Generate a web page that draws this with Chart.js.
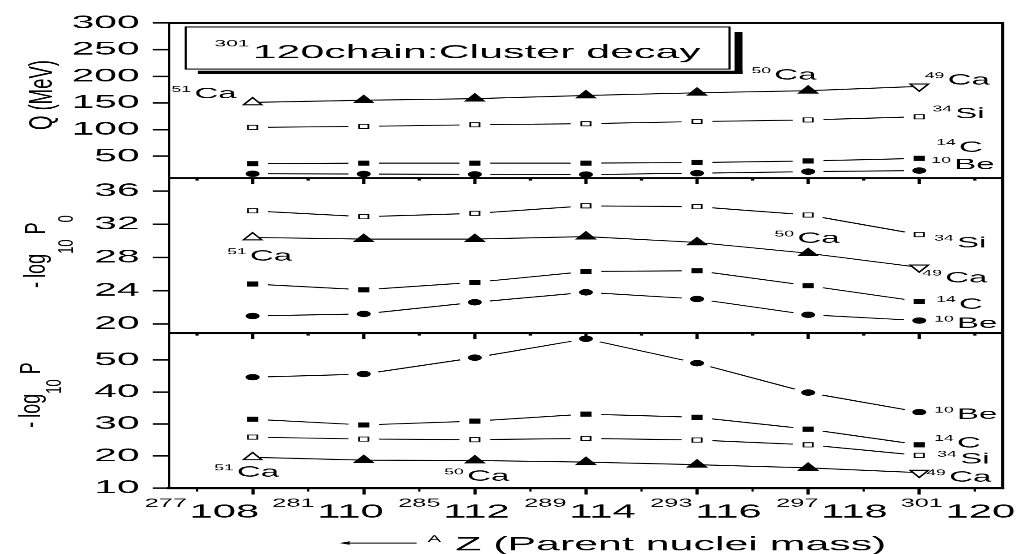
<!DOCTYPE html>
<html>
<head>
<meta charset="utf-8">
<script src="https://cdn.jsdelivr.net/npm/chart.js@4.4.1/dist/chart.umd.min.js"></script>
<style>
  html, body { margin: 0; padding: 0; background: #fff; overflow: hidden; }
  /* the figure is horizontally stretched, so draw narrow and widen it */
  #chart { position: absolute; left: 0; top: 0; transform: scaleX(2.19870); transform-origin: 0 0; }
</style>
</head>
<body>
<canvas id="chart" width="463" height="554"></canvas>
<script>
const FONT = "'Liberation Sans', Arial, Helvetica, sans-serif";
const STRETCH = 1018 / 463;

// x axis: atomic number Z and the parent mass number A
const zValues = [108, 110, 112, 114, 116, 118, 120];
const massNumbers = [277, 281, 285, 289, 293, 297, 301];
const xMinorTicks = [107, 109, 111, 113, 115, 117, 119, 121];

// y tick values per panel
const qTicks = [50, 100, 150, 200, 250, 300];
const p0Ticks = [20, 24, 28, 32, 36];
const pTicks = [10, 20, 30, 40, 50];

// Q value (MeV)
const qBe = [17, 16.5, 16, 15.5, 18, 21, 23];
const qC = [36, 37, 37, 37, 38, 41, 46];
const qSi = [104, 106, 109, 111, 115, 118, 124];
const qCa = [151, 155, 158, 164, 169, 173, 181];

// -log10 P0
const p0Be = [20.95, 21.2, 22.6, 23.8, 23.0, 21.1, 20.4];
const p0C = [24.8, 24.1, 25.0, 26.3, 26.4, 24.6, 22.7];
const p0Si = [33.6, 32.9, 33.3, 34.2, 34.1, 33.1, 30.75];
const p0Ca = [30.4, 30.2, 30.2, 30.5, 29.8, 28.5, 26.8];

// -log10 P
const pBe = [44.6, 45.6, 50.7, 56.6, 49.0, 39.8, 33.7];
const pC = [31.5, 29.7, 30.9, 33.1, 32.1, 28.4, 23.5];
const pSi = [25.9, 25.3, 25.1, 25.5, 25.0, 23.5, 20.2];
const pCa = [19.6, 18.7, 18.6, 18.1, 17.3, 16.3, 14.8];

const panels = [
    { id: 'yQ', min: 9, max: 300, ticks: qTicks, weight: 3, series: { Ca: qCa, Si: qSi, C: qC, Be: qBe } },
    { id: 'yP0', min: 18.9, max: 37.55, ticks: p0Ticks, weight: 2, series: { Si: p0Si, Ca: p0Ca, C: p0C, Be: p0Be } },
    { id: 'yP', min: 10, max: 58.4, ticks: pTicks, weight: 1, series: { Be: pBe, C: pC, Si: pSi, Ca: pCa } }
];

// cluster labels: panel, series, point index, mass, symbol, align, dx, dy (from the point)
const clusterLabels = [
    ['yQ', 'Ca', 0, '51', 'Ca', 'right', -7.3, -4],
    ['yQ', 'Ca', 5, '50', 'Ca', 'center', -11, -11],
    ['yQ', 'Ca', 6, '49', 'Ca', 'left', 2.5, -1.7],
    ['yQ', 'Si', 6, '34', 'Si', 'left', 6, 1.3],
    ['yQ', 'C', 6, '14', 'C', 'left', 7.7, -6.6],
    ['yQ', 'Be', 6, '10', 'Be', 'left', 5.5, -1.4],
    ['yP0', 'Ca', 0, '51', 'Ca', 'center', 3.2, 23.4],
    ['yP0', 'Ca', 5, '50', 'Ca', 'center', -0.5, -10.3],
    ['yP0', 'Ca', 6, '49', 'Ca', 'left', 1.4, 15],
    ['yP0', 'Si', 6, '34', 'Si', 'left', 6.8, 12.7],
    ['yP0', 'C', 6, '14', 'C', 'left', 7.7, 7.3],
    ['yP0', 'Be', 6, '10', 'Be', 'left', 6.8, 7.3],
    ['yP', 'Ca', 0, '51', 'Ca', 'center', -2.7, 19.4],
    ['yP', 'Ca', 2, '50', 'Ca', 'center', 0.9, 20.4],
    ['yP', 'Ca', 6, '49', 'Ca', 'left', 3.2, 9],
    ['yP', 'Si', 6, '34', 'Si', 'left', 8.2, 8],
    ['yP', 'C', 6, '14', 'C', 'left', 6.8, 2.6],
    ['yP', 'Be', 6, '10', 'Be', 'left', 6.8, 7]
];

const yTitles = {
    yQ: { x: 23.5, dy: -5.5, squash: 0.8, parts: [{ text: 'Q (MeV)', size: 18.5 }] },
    yP0: { x: 20.5, dy: -4, squash: 0.75, parts: [{ text: '-', size: 18 }, { text: 'log', size: 18, gap: 4 }, { text: '10', size: 13, rise: 17 }, { text: 'P', size: 18, gap: 5 }, { text: '0', size: 13, rise: 17 }] },
    yP: { x: 18, dy: -15.5, squash: 0.75, parts: [{ text: '-', size: 18 }, { text: 'log', size: 18, gap: 4 }, { text: '10', size: 13, rise: 13 }, { text: 'P', size: 18, gap: 5 }] }
};

const lastIdx = zValues.length - 1;
const markers = {
    Be: { pointStyle: 'circle', pointRadius: 2.7, pointBackgroundColor: '#000', pointBorderWidth: 1, gap: 7 },
    C: { pointStyle: 'rect', pointRadius: 3.6, pointBackgroundColor: '#000', pointBorderWidth: 0, gap: 7 },
    Si: { pointStyle: 'rect', pointRadius: 3.0, pointBackgroundColor: '#fff', pointBorderWidth: 0.8, gap: 7 },
    Ca: {
        pointStyle: 'triangle', pointRadius: 4.8, pointBorderWidth: 1, gap: 0,
        // first and last are open, the last one points down
        pointBackgroundColor: c => (c.dataIndex === 0 || c.dataIndex === lastIdx) ? '#fff' : '#000',
        pointRotation: c => c.dataIndex === lastIdx ? 180 : 0
    }
};

// each series: the line, a white gap behind the marker, then the marker
const datasets = [];
panels.forEach(p => {
    Object.entries(p.series).forEach(([name, values]) => {
        const data = zValues.map((z, i) => ({ x: z, y: values[i] }));
        const { gap, ...style } = markers[name];
        datasets.push({ label: name, data, yAxisID: p.id, borderColor: '#000', borderWidth: 1, pointRadius: 0, order: 3 });
        if (gap > 0) {
            datasets.push({ data, yAxisID: p.id, showLine: false, pointStyle: 'circle', pointRadius: gap,
                pointBackgroundColor: '#fff', pointBorderWidth: 0, order: 2 });
        }
        datasets.push({ data, yAxisID: p.id, showLine: false, pointBorderColor: '#000', order: 1, ...style });
    });
});

function drawRich(ctx, x, y, parts, align) {
    let width = 0;
    const sized = parts.map(p => {
        ctx.font = `${p.size}px ${FONT}`;
        const w = ctx.measureText(p.text).width;
        width += (p.gap || 0) + w;
        return { ...p, w };
    });
    let cx = align === 'center' ? x - width / 2 : align === 'right' ? x - width : x;
    sized.forEach(p => {
        cx += p.gap || 0;
        ctx.font = `${p.size}px ${FONT}`;
        ctx.fillText(p.text, cx, y + (p.rise || 0));
        cx += p.w;
    });
}

function drawVertical(ctx, x, y, parts, squash) {
    ctx.save();
    ctx.translate(x, y);
    ctx.scale(squash, 1);
    ctx.rotate(-Math.PI / 2);
    drawRich(ctx, 0, 0, parts, 'center');
    ctx.restore();
}

// panel frame, separators and the inner ticks
const framePlugin = {
    id: 'frame',
    afterDatasetsDraw(chart) {
        const ctx = chart.ctx;
        const { left, right, top, bottom } = chart.chartArea;
        const xs = chart.scales.x;
        ctx.save();
        ctx.strokeStyle = '#000';
        ctx.lineWidth = 2;
        [top, chart.scales.yQ.bottom, chart.scales.yP0.bottom].forEach(y => {
            ctx.beginPath();
            ctx.moveTo(left, y);
            ctx.lineTo(right, y);
            ctx.stroke();
        });
        ctx.lineWidth = 1.4;
        ctx.beginPath();
        ctx.moveTo(right, top - 1);
        ctx.lineTo(right, bottom + 1);
        ctx.stroke();

        ctx.lineWidth = 1.5;
        ['yP0', 'yP'].forEach(id => {
            const y0 = chart.scales[id].top;
            zValues.forEach(v => {
                const x = xs.getPixelForValue(v);
                ctx.beginPath(); ctx.moveTo(x, y0); ctx.lineTo(x, y0 + 6); ctx.stroke();
            });
            xMinorTicks.forEach(v => {
                const x = xs.getPixelForValue(v);
                ctx.beginPath(); ctx.moveTo(x, y0); ctx.lineTo(x, y0 + 2.5); ctx.stroke();
            });
        });
        ctx.lineWidth = 1;
        xMinorTicks.forEach(v => {
            const x = xs.getPixelForValue(v);
            ctx.beginPath(); ctx.moveTo(x, bottom); ctx.lineTo(x, bottom + 3.5); ctx.stroke();
        });
        ctx.restore();
    }
};

// all the text with super- and subscripts
const labelPlugin = {
    id: 'labels',
    afterDraw(chart) {
        const ctx = chart.ctx;
        const { left, top, bottom } = chart.chartArea;
        const xs = chart.scales.x;
        ctx.save();
        ctx.fillStyle = '#000';
        ctx.textBaseline = 'alphabetic';
        ctx.textAlign = 'left';

        clusterLabels.forEach(([id, name, i, mass, sym, align, dx, dy]) => {
            const panel = panels.find(p => p.id === id);
            const px = xs.getPixelForValue(zValues[i]);
            const py = chart.scales[id].getPixelForValue(panel.series[name][i]);
            drawRich(ctx, px + dx, py + dy, [{ text: mass, size: 8, rise: -6.5 }, { text: sym, size: 15, gap: 1.5 }], align);
        });

        // tick labels "A Z", spread a little wider than the ticks as in the original
        const mid = xs.getPixelForValue(114);
        zValues.forEach((z, i) => {
            const tx = xs.getPixelForValue(z);
            const cx = tx + (tx - mid) * 0.134 - 2.7;
            drawRich(ctx, cx, bottom + 29.7, [{ text: String(massNumbers[i]), size: 11.5, rise: -11 }, { text: String(z), size: 19, gap: 1.2 }], 'center');
        });

        // x axis title with the arrow
        const ay = bottom + 55;
        ctx.strokeStyle = '#000';
        ctx.lineWidth = 1;
        ctx.beginPath();
        ctx.moveTo(left + 78.5, ay);
        ctx.lineTo(left + 112.5, ay);
        ctx.stroke();
        ctx.beginPath();
        ctx.moveTo(left + 77.5, ay);
        ctx.lineTo(left + 82, ay - 1.8);
        ctx.lineTo(left + 82, ay + 1.8);
        ctx.closePath();
        ctx.fill();
        drawRich(ctx, left + 117.5, bottom + 62.5, [{ text: 'A', size: 9, rise: -9 }, { text: 'Z (Parent nuclei mass)', size: 19.5, gap: 6.5 }], 'left');

        // rotated y titles
        Object.entries(yTitles).forEach(([id, t]) => {
            const s = chart.scales[id];
            drawVertical(ctx, t.x, (s.top + s.bottom) / 2 + t.dy, t.parts, t.squash);
        });

        // title box with its shadow
        const bx = left + 7.5, by = top + 4, bw = 247.3, bh = 42;
        ctx.fillStyle = '#000';
        ctx.fillRect(bx + bw + 2.3, by + 5, 3.6, bh);
        ctx.fillRect(bx + 5.5, by + bh + 1.7, bw - 5.5 + 5.9, 3.3);
        ctx.fillStyle = '#fff';
        ctx.fillRect(bx, by, bw, bh);
        ctx.strokeRect(bx, by, bw, bh);
        ctx.fillStyle = '#000';
        drawRich(ctx, bx + bw / 2, by + 31, [{ text: '301', size: 9.5, rise: -11.5 }, { text: '120chain:Cluster decay', size: 19.5, gap: 1.5 }], 'center');
        ctx.restore();
    }
};

const scales = {
    x: {
        type: 'linear', position: 'bottom', min: 106.5, max: 121.5,
        afterBuildTicks: ax => { ax.ticks = zValues.map(v => ({ value: v })); },
        afterFit: ax => { ax.height = 66; },
        ticks: { display: false },
        grid: { drawOnChartArea: false, tickLength: 6.5, tickWidth: 1.5, tickColor: '#000' },
        border: { color: '#000', width: 2 }
    }
};
panels.forEach(p => {
    scales[p.id] = {
        type: 'linear', position: 'left', stack: 'panels', stackWeight: 1, weight: p.weight,
        min: p.min, max: p.max,
        afterBuildTicks: ax => { ax.ticks = p.ticks.map(v => ({ value: v })); },
        afterFit: ax => { ax.width = 77; },
        ticks: { autoSkip: false, padding: 6, color: '#000', font: { family: FONT, size: 18.5 } },
        grid: { drawOnChartArea: false, tickLength: 7.5, tickWidth: 1.5, tickColor: '#000' },
        border: { color: '#000', width: 1 }
    };
});

Chart.defaults.font.family = FONT;
Chart.defaults.color = '#000';

new Chart(document.getElementById('chart'), {
    type: 'line',
    data: { datasets },
    options: {
        responsive: false,
        animation: false,
        devicePixelRatio: STRETCH,
        events: [],
        layout: { padding: { top: 23, right: 4.5, left: 0, bottom: 0 } },
        plugins: { legend: { display: false }, tooltip: { enabled: false } },
        scales
    },
    plugins: [framePlugin, labelPlugin]
});
</script>
</body>
</html>
